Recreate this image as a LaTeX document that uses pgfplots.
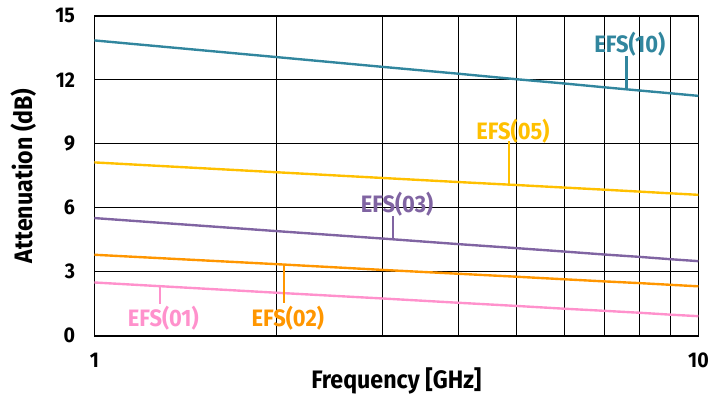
\documentclass[border=0pt]{standalone}
\usepackage{pgfplots}
\pgfplotsset{compat=1.18}
\usepackage{fontspec}
\setmainfont{Fira Sans}[FakeStretch=0.92]
\definecolor{cTeal}{RGB}{49,134,158}
\definecolor{cYel}{RGB}{255,192,0}
\definecolor{cPur}{RGB}{128,100,162}
\definecolor{cOra}{RGB}{255,150,0}
\definecolor{cPink}{RGB}{255,145,204}
\begin{document}
\begin{tikzpicture}[x=1bp,y=1bp]
\path (0,0) rectangle (712,400);
\begin{axis}[
  at={(95bp,62bp)}, anchor=south west,
  scale only axis, width=608bp, height=322bp,
  xmode=log, xmin=1, xmax=10, ymin=0, ymax=15,
  log basis x=10,
  xtick={1,10}, xticklabels={1,10},
  minor xtick={2,3,4,5,6,7,8,9},
  ytick={0,3,6,9,12,15},
  grid=both,
  major grid style={black, line width=0.9bp},
  minor grid style={black, line width=0.9bp},
  axis line style={black, line width=1.6bp},
  major tick length=0pt, minor tick length=0pt,
  tick style={draw=none},
  font=\bfseries\fontsize{21.5}{23}\selectfont,
  /pgf/number format/assume math mode=true,
  xticklabel style={yshift=-14bp},
  yticklabel style={xshift=-16bp},
  xlabel={Frequency [GHz]},
  ylabel={Attenuation (dB)},
  label style={font=\bfseries\fontsize{25.5}{27}\selectfont},
  xlabel style={at={(axis description cs:0.5,0)}, anchor=center, yshift=-45bp},
  ylabel style={at={(axis description cs:0,0.5)}, anchor=center, yshift=71bp},
  clip=false,
  every axis plot/.append style={line width=2.4bp},
]
\addplot[cTeal] coordinates {(1,13.85) (2,13.07) (3,12.61) (4,12.29) (5,12.03) (6,11.83) (7,11.65) (8,11.50) (9,11.37) (10,11.25)};
\addplot[cYel] coordinates {(1,8.13) (2,7.67) (3,7.40) (4,7.21) (5,7.07) (6,6.95) (7,6.85) (8,6.76) (9,6.68) (10,6.61)};
\addplot[cPur] coordinates {(1,5.52) (2,4.91) (3,4.56) (4,4.30) (5,4.11) (6,3.95) (7,3.81) (8,3.70) (9,3.59) (10,3.50)};
\addplot[cOra] coordinates {(1,3.80) (2,3.36) (3,3.09) (4,2.91) (5,2.77) (6,2.65) (7,2.55) (8,2.47) (9,2.39) (10,2.32)};
\addplot[cPink] coordinates {(1,2.50) (2,2.02) (3,1.75) (4,1.55) (5,1.40) (6,1.27) (7,1.17) (8,1.08) (9,0.99) (10,0.92)};
\begin{scope}[line width=2.2bp, font=\bfseries\fontsize{24}{26}\selectfont]
\draw[cTeal] (axis cs:7.6,11.56) -- (axis cs:7.6,13.14);
\node[cTeal] at (axis cs:7.7,13.65) {EFS(10)};
\draw[cYel] (axis cs:4.85,7.09) -- (axis cs:4.85,9.13);
\node[cYel] at (axis cs:4.93,9.59) {EFS(05)};
\draw[cPur] (axis cs:3.12,4.52) -- (axis cs:3.12,5.62);
\node[cPur] at (axis cs:3.17,6.19) {EFS(03)};
\draw[cOra] (axis cs:2.06,3.35) -- (axis cs:2.06,1.53);
\node[cOra] at (axis cs:2.09,0.83) {EFS(02)};
\draw[cPink] (axis cs:1.284,2.33) -- (axis cs:1.284,1.50);
\node[cPink] at (axis cs:1.30,0.83) {EFS(01)};
\end{scope}
\end{axis}
\end{tikzpicture}
\end{document}
